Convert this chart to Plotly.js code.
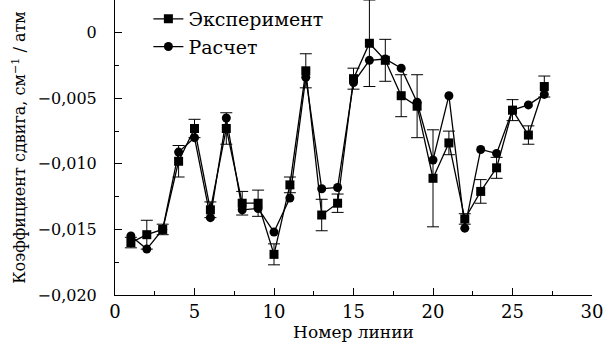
<!DOCTYPE html>
<html><head><meta charset="utf-8">
<script src="https://cdn.plot.ly/plotly-3.0.1.min.js"></script>
<style>html,body{margin:0;padding:0;background:#fff}#c{width:605px;height:347px}</style>
</head><body><div id="c"></div>
<script>
const lineNo = [1,2,3,4,5,6,7,8,9,10,11,12,13,14,15,16,17,18,19,20,21,22,23,24,25,26,27];
const expVals = [-0.0160,-0.0154,-0.0150,-0.0098,-0.0073,-0.0135,-0.0073,-0.0130,-0.0130,-0.0169,-0.0116,-0.0029,-0.0139,-0.0130,-0.0035,-0.0008,-0.0021,-0.0048,-0.0056,-0.0111,-0.0084,-0.0142,-0.0121,-0.0103,-0.0059,-0.0078,-0.0041];
const expErr = [0.0004,0.0011,0.0004,0.0012,0.0007,0.0006,0.0012,0.0009,0.0010,0.0008,0.0006,0.0013,0.0012,0.0007,0.0008,0.0033,0.0016,0.0016,0.0024,0.0037,0.0009,0.0004,0.0009,0.0008,0.0008,0.0007,0.0008];
const calcVals = [-0.0155,-0.0165,-0.0150,-0.0091,-0.0080,-0.0141,-0.0065,-0.0135,-0.0134,-0.0152,-0.0126,-0.0034,-0.0119,-0.0118,-0.0038,-0.0021,-0.0020,-0.0027,-0.0053,-0.0097,-0.0048,-0.0149,-0.0089,-0.0092,-0.0059,-0.0055,-0.0047];
const yTickVals = [0,-0.005,-0.010,-0.015,-0.020];
const yTickText = ['0','−0,005','−0,010','−0,015','−0,020'];
const xTickVals = [0,5,10,15,20,25,30];
const xTickText = ['0','5','10','15','20','25','30'];

const FAM = 'DejaVu Serif';
function f(size){ return {family:FAM, size:size, color:'#000'}; }
const traces = [
  {x:lineNo, y:expVals, name:'Эксперимент', type:'scatter', mode:'lines+markers',
   line:{color:'#000', width:1.3}, marker:{symbol:'square', size:9, color:'#000'},
   error_y:{type:'data', array:expErr, visible:true, color:'#000', thickness:1, width:6}},
  {x:lineNo, y:calcVals, name:'Расчет', type:'scatter', mode:'lines+markers',
   line:{color:'#000', width:1.3}, marker:{symbol:'circle', size:9, color:'#000'}}
];
const layout = {
  width:605, height:347,
  margin:{l:115, r:13, t:0, b:52},
  paper_bgcolor:'#fff', plot_bgcolor:'#fff',
  font:f(16),
  showlegend:true,
  legend:{x:0.07, y:1.0, xanchor:'left', yanchor:'top', bgcolor:'rgba(0,0,0,0)',
    font:f(19), tracegroupgap:0, itemwidth:30},
  xaxis:{range:[0,30], tickvals:xTickVals, ticktext:xTickText, ticks:'inside', ticklen:7,
    tickcolor:'#000', tickwidth:1, showline:true, linecolor:'#000', linewidth:1, showgrid:false, zeroline:false,
    minor:{dtick:2.5, tick0:0, ticks:'inside', ticklen:4, tickcolor:'#000', tickwidth:1},
    tickfont:f(18),
    title:{text:'Номер линии', font:f(17), standoff:2}},
  yaxis:{range:[-0.020, 0.0025], tickvals:yTickVals, ticktext:yTickText, ticks:'inside', ticklen:7,
    tickcolor:'#000', tickwidth:1, showline:true, linecolor:'#000', linewidth:1, showgrid:false, zeroline:false,
    minor:{dtick:0.0025, tick0:0, ticks:'inside', ticklen:4, tickcolor:'#000', tickwidth:1},
    tickfont:f(16), ticklabelstandoff:14,
    title:{text:'Коэффициент сдвига, см<sup>−1</sup> / атм', font:f(16), standoff:7}}
};
Plotly.newPlot('c', traces, layout, {displayModeBar:false, staticPlot:true});
</script></body></html>
